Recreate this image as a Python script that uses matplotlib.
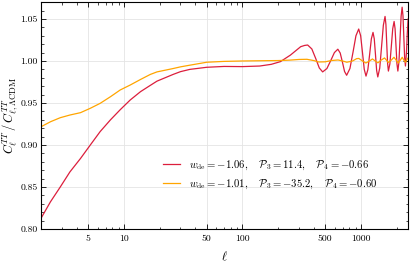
import matplotlib
matplotlib.use("Agg")
import matplotlib.pyplot as plt
from matplotlib.ticker import FixedLocator, LogLocator, NullFormatter, MultipleLocator, FormatStrFormatter

plt.rcParams.update({
    "font.family": "serif",
    "font.serif": ["cmr10"],
    "mathtext.fontset": "cm",
    "axes.formatter.use_mathtext": True,
    "xtick.direction": "in",
    "ytick.direction": "in",
    "xtick.top": True,
    "ytick.right": True,
    "xtick.minor.visible": True,
    "ytick.minor.visible": True,
})

# Ratio to LCDM, red model
ell_red = [2, 2.4, 2.9, 3.5, 4.3, 5.2, 6.3, 7.7, 9.3, 11.3, 13.8, 16.7, 19, 26, 30, 36,
           50, 70, 100, 140, 175, 209, 254, 310, 335, 355,
           385, 415, 445, 475, 516, 556, 597, 638, 668, 698, 727, 757,
           807, 857, 907, 957, 994, 1030, 1066, 1103, 1143, 1184, 1224, 1264,
           1295, 1326, 1356, 1387, 1440, 1492, 1545, 1597, 1624, 1650, 1677, 1704,
           1754, 1804, 1854, 1904, 1940, 1976, 2012, 2048, 2092, 2136, 2181, 2225,
           2262, 2299, 2336, 2373, 2420, 2460, 2500]
ratio_red = [0.813, 0.8325, 0.850, 0.868, 0.884, 0.900, 0.916, 0.930, 0.942, 0.9536, 0.9635, 0.971,
             0.976, 0.984, 0.9873, 0.990, 0.9925, 0.9935, 0.9933, 0.994, 0.996, 0.9992, 1.007,
             1.017, 1.0185, 1.019,
             1.0143, 1.003, 0.9917, 0.987, 0.991, 1.0005, 1.010, 1.014, 1.0095, 0.9985, 0.9875, 0.983,
             0.991, 1.0105, 1.030, 1.038, 1.030, 1.010, 0.990, 0.982, 0.9896, 1.008, 1.0264, 1.034,
             1.0263, 1.0075, 0.9887, 0.981, 0.9915, 1.017, 1.0425, 1.053, 1.0435, 1.0205, 0.9975, 0.988,
             0.9966, 1.0175, 1.0384, 1.047, 1.0384, 1.0175, 0.9966, 0.988, 0.999, 1.026, 1.053, 1.064,
             1.054, 1.029, 1.004, 0.994, 1.010, 1.033, 1.050]

# Ratio to LCDM, orange model
ell_orange = [2, 2.4, 2.9, 3.5, 4.3, 5.2, 6.3, 7.7, 9.3, 11.3, 13.8, 16.7, 19, 26, 30, 36,
              50, 70, 100, 150, 200, 250, 300, 350, 400, 440, 500, 560, 640, 700, 760,
              850, 920, 960, 1030, 1100, 1180, 1250, 1320, 1390, 1480, 1580, 1640, 1700,
              1800, 1900, 1980, 2060, 2150, 2230, 2300, 2380, 2450, 2500]
ratio_orange = [0.9218, 0.9277, 0.9325, 0.9357, 0.9385, 0.9437, 0.9496, 0.9575, 0.9655, 0.9714,
                0.978, 0.984, 0.987, 0.991, 0.993, 0.995, 0.9985, 0.9995, 1.000, 1.0003, 1.0005,
                1.001, 1.0018, 1.002, 1.0005, 0.9988, 0.999, 1.0005, 1.0012, 1.000, 0.9985,
                1.000, 1.0028, 1.003, 1.000, 0.9976, 1.000, 1.0024, 1.000, 0.9978, 1.001, 1.0036,
                1.001, 0.9982, 1.001, 1.0044, 1.001, 0.9976, 1.001, 1.0044, 1.001, 0.9985, 1.002, 1.0035]

labels = [r"$w_{\rm de}=-1.06,\quad \mathcal{P}_3=11.4,\quad \mathcal{P}_4=-0.66$",
          r"$w_{\rm de}=-1.01,\quad \mathcal{P}_3=-35.2,\quad \mathcal{P}_4=-0.60$"]
xticks = [5, 10, 50, 100, 500, 1000]

fig = plt.figure(figsize=(4.11, 2.67), dpi=100)
ax = fig.add_axes([0.1, 0.142, 0.893, 0.85])

ax.plot(ell_red, ratio_red, color="#dc1e3c", lw=0.9, label=labels[0])
ax.plot(ell_orange, ratio_orange, color="#ffa500", lw=0.9, label=labels[1])

ax.set_xscale("log")
ax.set_xlim(2, 2500)
ax.set_ylim(0.80, 1.07)
ax.xaxis.set_major_locator(FixedLocator(xticks))
ax.xaxis.set_major_formatter(FormatStrFormatter("%d"))
ax.xaxis.set_minor_locator(LogLocator(base=10, subs=range(2, 10)))
ax.xaxis.set_minor_formatter(NullFormatter())
ax.yaxis.set_major_locator(MultipleLocator(0.05))
ax.yaxis.set_minor_locator(MultipleLocator(0.01))
ax.yaxis.set_major_formatter(FormatStrFormatter("%.2f"))
ax.tick_params(which="major", length=3.5, width=0.6, labelsize=7, pad=2.5)
ax.tick_params(axis="x", which="major", pad=4)
ax.tick_params(which="minor", length=1.8, width=0.5)
for s in ax.spines.values():
    s.set_linewidth(0.8)
ax.grid(True, which="major", color="#e4e4e4", lw=0.6)
ax.set_axisbelow(True)

ax.set_xlabel(r"$\ell$", fontsize=9, labelpad=5)
ax.set_ylabel(r"$C_\ell^{TT}\,/\,C_{\ell,\Lambda{\rm CDM}}^{TT}$", fontsize=9)
ax.yaxis.set_label_coords(-0.058, 0.5)
ax.legend(loc="lower right", bbox_to_anchor=(0.942, 0.125), frameon=False, fontsize=7.7,
          handlelength=1.65, labelspacing=0.55)

fig.savefig("out.png", dpi=100)
